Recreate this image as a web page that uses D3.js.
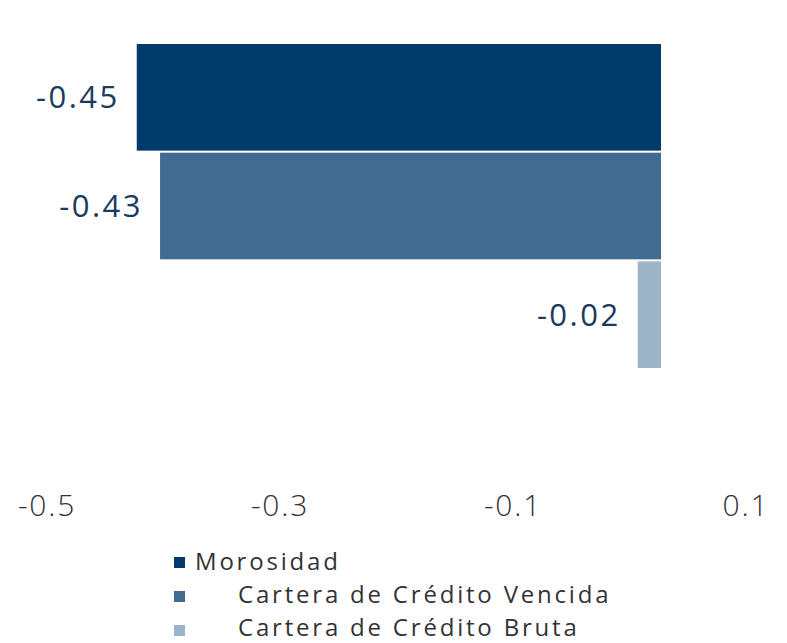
<!DOCTYPE html>
<html>
<head>
<meta charset="utf-8">
<script src="https://cdn.jsdelivr.net/npm/d3@7"></script>
<style>
  html, body { margin: 0; padding: 0; background: #fff; }
  svg { display: block; font-family: "Open Sans", sans-serif; }
</style>
</head>
<body>
<svg id="chart" width="787" height="643"></svg>
<script>
// Variation indicators
const categories = ["Morosidad", "Cartera de Crédito Vencida", "Cartera de Crédito Bruta"];
const values = [-0.45, -0.43, -0.02];
const valueLabels = ["-0.45", "-0.43", "-0.02"];
const tickValues = [-0.5, -0.3, -0.1, 0.1];
const tickLabels = ["-0.5", "-0.3", "-0.1", "0.1"];
const colors = ["#003b6c", "#416b90", "#9cb3c8"];

const svg = d3.select("#chart");

const x = d3.scaleLinear().domain([-0.5, 0.1]).range([661 - 0.5 * 1165, 661 + 0.1 * 1165]);
const y = d3.scaleBand().domain(categories).range([44, 368]).paddingInner(0.019);

// Bars grow leftwards from zero
svg.append("g").selectAll("rect")
  .data(categories)
  .join("rect")
  .attr("x", (d, i) => x(Math.min(0, values[i])))
  .attr("y", d => y(d))
  .attr("width", (d, i) => Math.abs(x(values[i]) - x(0)))
  .attr("height", y.bandwidth())
  .attr("fill", (d, i) => colors[i]);

// Value labels to the left of each bar
svg.append("g").selectAll("text")
  .data(categories)
  .join("text")
  .attr("x", (d, i) => x(Math.min(0, values[i])) - 17)
  .attr("y", d => y(d) + y.bandwidth() / 2)
  .attr("dy", "0.35em")
  .attr("text-anchor", "end")
  .attr("fill", "#1b3a60")
  .attr("font-size", 31)
  .attr("letter-spacing", 2.5)
  .text((d, i) => valueLabels[i]);

// Horizontal axis labels
const axis = d3.axisBottom(x)
  .tickValues(tickValues)
  .tickSize(0)
  .tickFormat((d, i) => tickLabels[i]);

const axisG = svg.append("g")
  .attr("transform", "translate(0,492)")
  .call(axis);
axisG.select(".domain").remove();
axisG.selectAll("text")
  .attr("dx", -32)
  .attr("font-family", "'Open Sans', sans-serif")
  .attr("font-size", 30)
  .attr("font-weight", 300)
  .attr("letter-spacing", 1.8)
  .attr("fill", "#333");

// Legend
const legend = svg.append("g");
const legendRows = [
  { sx: 174, sy: 557, s: 11, tx: 195, ty: 562 },
  { sx: 174, sy: 591, s: 11, tx: 238, ty: 595 },
  { sx: 174, sy: 625, s: 11, tx: 238, ty: 628 }
];
legend.selectAll("rect")
  .data(categories)
  .join("rect")
  .attr("x", (d, i) => legendRows[i].sx)
  .attr("y", (d, i) => legendRows[i].sy)
  .attr("width", (d, i) => legendRows[i].s)
  .attr("height", (d, i) => legendRows[i].s)
  .attr("fill", (d, i) => colors[i]);
legend.selectAll("text")
  .data(categories)
  .join("text")
  .attr("x", (d, i) => legendRows[i].tx)
  .attr("y", (d, i) => legendRows[i].ty)
  .attr("dy", "0.35em")
  .attr("font-size", 24)
  .attr("letter-spacing", 2.8)
  .attr("fill", "#333")
  .text(d => d);
</script>
</body>
</html>
